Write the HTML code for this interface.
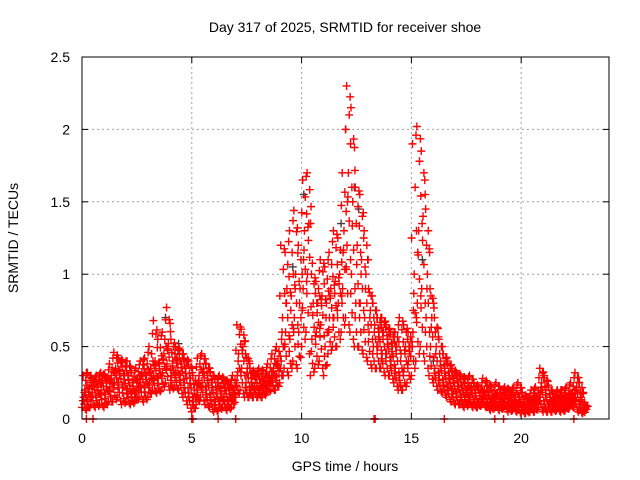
<!DOCTYPE html>
<html><head><meta charset="utf-8"><style>
body{margin:0;background:#fff}
svg{display:block;font-family:"Liberation Sans",sans-serif}
</style></head><body>
<svg id="chart" width="640" height="480" viewBox="0 0 640 480" xmlns="http://www.w3.org/2000/svg">
<rect width="640" height="480" fill="#fff"/>
<text x="345" y="32" font-size="14" text-anchor="middle">Day 317 of 2025, SRMTID for receiver shoe</text>
<text x="345" y="471" font-size="14" text-anchor="middle">GPS time / hours</text>
<text x="0" y="0" font-size="14" text-anchor="middle" transform="translate(18,238) rotate(-90)">SRMTID / TECUs</text>
<g id="grid"></g><g id="ticks"></g><g id="marks"></g>
<rect x="82" y="57" width="527" height="362" fill="none" stroke="#000" stroke-width="1"/>
</svg>
<script>
const xTicks=[0,5,10,15,20];
const yTicks=[0,0.5,1,1.5,2,2.5];
const yTickLabels=["0","0.5","1","1.5","2","2.5"];
const times=[0,0.2,0.4,0.6,0.8,1.0,1.2,1.4,1.6,1.8,2.0,2.2,2.4,2.6,2.8,3.0,3.2,3.4,3.6,3.8,4.0,4.2,4.4,4.6,4.8,5.0,5.2,5.4,5.6,5.8,6.0,6.2,6.4,6.6,6.8,7.0,7.2,7.4,7.6,7.8,8.0,8.2,8.4,8.6,8.8,9.0,9.2,9.4,9.6,9.8,10.0,10.2,10.4,10.6,10.8,11.0,11.2,11.4,11.6,11.8,12.0,12.2,12.4,12.6,12.8,13.0,13.2,13.4,13.6,13.8,14.0,14.2,14.4,14.6,14.8,15.0,15.2,15.4,15.6,15.8,16.0,16.2,16.4,16.6,16.8,17.0,17.2,17.4,17.6,17.8,18.0,18.2,18.4,18.6,18.8,19.0,19.2,19.4,19.6,19.8,20.0,20.2,20.4,20.6,20.8,21.0,21.2,21.4,21.6,21.8,22.0,22.2,22.4,22.6,22.8];
const redLo=[.08,.06,.1,.08,.1,.08,.12,.12,.15,.1,.12,.1,.12,.15,.12,.15,.2,.18,.2,.25,.2,.22,.2,.15,.1,.05,.1,.15,.1,.08,.05,.06,.08,.06,.08,.15,.2,.15,.15,.15,.15,.15,.18,.2,.2,.25,.35,.3,.4,.35,.5,.6,.3,.35,.4,.3,.45,.5,.5,.6,.7,.6,.5,.5,.45,.4,.35,.35,.35,.3,.3,.25,.2,.2,.25,.3,.4,.5,.4,.3,.25,.2,.18,.15,.12,.1,.1,.08,.1,.08,.08,.1,.08,.06,.08,.06,.08,.05,.06,.05,.04,.04,.05,.05,.08,.05,.05,.05,.06,.05,.06,.08,.08,.05,.04];
const redMidA=[.15,.12,.18,.15,.2,.17,.22,.25,.25,.22,.2,.18,.2,.25,.22,.25,.3,.28,.32,.38,.3,.32,.3,.25,.18,.12,.2,.25,.2,.15,.12,.12,.15,.12,.15,.3,.35,.25,.2,.22,.2,.22,.25,.28,.3,.4,.6,.55,.7,.6,.9,1.0,.55,.6,.65,.5,.7,.7,.8,.9,1.2,1.0,.8,.8,.7,.6,.5,.5,.45,.45,.4,.35,.3,.35,.4,.6,.8,.9,.7,.5,.35,.3,.25,.22,.2,.18,.15,.15,.15,.12,.12,.15,.12,.1,.12,.1,.12,.1,.1,.1,.08,.08,.1,.1,.15,.1,.1,.1,.1,.1,.1,.12,.15,.1,.06];
const redMidB=[.2,.22,.25,.22,.28,.25,.3,.35,.33,.3,.3,.25,.28,.32,.3,.35,.4,.38,.45,.52,.4,.42,.38,.35,.28,.2,.3,.35,.3,.25,.2,.22,.22,.2,.2,.45,.5,.35,.28,.3,.25,.28,.3,.35,.4,.7,.9,.85,1.0,.9,1.3,1.35,.8,.8,.85,.8,.9,.95,1.0,1.3,1.7,1.5,1.2,1.1,1.0,.75,.65,.6,.6,.55,.5,.5,.45,.5,.5,1.0,1.3,1.4,1.0,.7,.5,.4,.35,.3,.28,.25,.22,.2,.22,.18,.18,.2,.18,.15,.18,.15,.18,.15,.15,.15,.12,.12,.14,.15,.25,.2,.15,.14,.15,.14,.15,.18,.22,.15,.08];
const redHi=[.3,.32,.28,.3,.32,.3,.38,.46,.42,.4,.4,.32,.35,.4,.42,.5,.68,.55,.6,.77,.55,.5,.48,.42,.4,.3,.42,.45,.38,.32,.28,.3,.28,.25,.3,.65,.62,.45,.35,.32,.35,.33,.38,.45,.5,1.2,1.15,1.3,1.44,1.2,1.65,1.7,1.0,.95,1.1,1.05,1.15,1.3,1.25,1.7,2.3,2.15,1.6,1.55,1.3,.9,.8,.7,.7,.65,.6,.6,.7,.65,.6,1.9,2.02,1.85,1.45,.9,.7,.55,.45,.4,.35,.32,.3,.28,.3,.25,.22,.28,.25,.22,.25,.2,.22,.2,.22,.25,.18,.15,.2,.22,.35,.3,.22,.18,.2,.2,.22,.25,.32,.25,.1];
const grayT=[0.2,2.4,3.8,4.4,9.6,10.1,11.8,12.0,12.4,12.6,15.5,16.0,22.4];
const grayV=[0.32,0.15,0.7,0.52,1.05,1.55,1.35,2.0,1.6,1.45,1.1,0.4,0.12];
const zeroT=[0.2,0.5,5.0,5.05,6.2,7.0,13.3,13.35,16.5,18.8,19.2,22.4];

const L=82,R=609,T=57,B=419,XMAX=24,YMAX=2.5;
const xs=v=>L+(R-L)*v/XMAX, ys=v=>B-(B-T)*v/YMAX;
const NS="http://www.w3.org/2000/svg";
function mk(tag,attrs,parent){const e=document.createElementNS(NS,tag);for(const k in attrs)e.setAttribute(k,attrs[k]);parent.appendChild(e);return e;}
const grid=document.getElementById('grid'),ticks=document.getElementById('ticks'),marks=document.getElementById('marks');
xTicks.forEach(v=>{const x=xs(v);
 if(v>0){const g=mk('line',{x1:x,x2:x,y1:T,y2:B,stroke:'#a0a0a0','stroke-dasharray':'2,3'},grid);
 
 }
 mk('line',{x1:x,x2:x,y1:B,y2:B-6,stroke:'#000'},ticks);mk('line',{x1:x,x2:x,y1:T,y2:T+6,stroke:'#000'},ticks);
 const t=mk('text',{x:x,y:443,'font-size':14,'text-anchor':'middle'},ticks);t.textContent=String(v);
 
 });
yTicks.forEach((v,i)=>{const y=ys(v);
 if(v>0&&v<YMAX){const g=mk('line',{x1:L,x2:R,y1:y,y2:y,stroke:'#a0a0a0','stroke-dasharray':'2,3'},grid);
 
 }
 mk('line',{x1:L,x2:L+6,y1:y,y2:y,stroke:'#000'},ticks);mk('line',{x1:R,x2:R-6,y1:y,y2:y,stroke:'#000'},ticks);
 const t=mk('text',{x:70,y:y+5,'font-size':14,'text-anchor':'end'},ticks);t.textContent=yTickLabels[i];
 
 });
function plus(t,v,col,name){const x=xs(t),y=ys(v);
 const p=mk('path',{d:`M${x-4},${y}h8M${x},${y-4}v8`,stroke:col,'stroke-width':1.4,fill:'none'},marks);
 
 }
grayT.forEach((t,i)=>plus(t,grayV[i],'#404040','gray-point'));
const offs=[0,0.07,0.13,0.05];
const series=[redLo,redMidA,redMidB,redHi];
series.forEach((arr,k)=>times.forEach((t,i)=>{
 plus(t+offs[k],arr[i],'#ff0000','red-point');
 if(k<3){const nxt=series[k+1][i];
  plus(t+offs[k]+0.1,(arr[i]*2+nxt)/3,'#ff0000','red-point');
  plus(t+offs[k]+0.04,(arr[i]+nxt*2)/3,'#ff0000','red-point');}
 if(i+1<times.length) plus(t+offs[k]+0.16,(arr[i]+arr[i+1])/2,'#ff0000','red-point');
}));
zeroT.forEach(t=>plus(t,0,'#ff0000','red-zero-point'));
</script>
</body></html>
